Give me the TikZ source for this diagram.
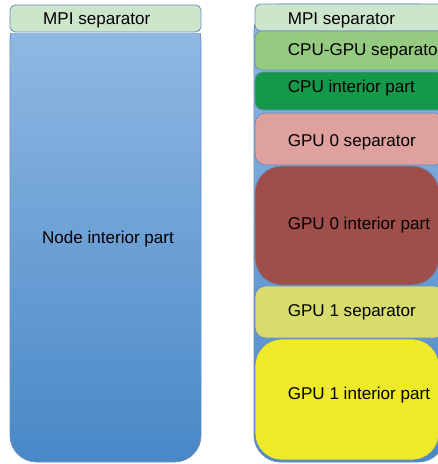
\documentclass[tikz,border=0pt]{standalone}
\usepackage{fontspec}
\setmainfont{Liberation Sans}
\usepackage{tikz}
\definecolor{edgeblue}{RGB}{104,142,190}
\definecolor{bluetop}{RGB}{147,186,228}
\definecolor{bluebot}{RGB}{72,136,199}
\definecolor{mpigreen}{RGB}{205,230,203}
\definecolor{cpugpugreen}{RGB}{148,203,128}
\definecolor{cpugreen}{RGB}{22,152,74}
\definecolor{gpuzerosep}{RGB}{222,161,157}
\definecolor{gpuzeroint}{RGB}{160,78,74}
\definecolor{gpuonesep}{RGB}{216,220,110}
\definecolor{gpuoneint}{RGB}{238,234,42}
\tikzset{every picture/.style={line width=0.75pt}}
\tikzset{part/.style={draw=edgeblue,line width=0.6pt},
  partlabel/.style={anchor=base west,inner sep=0pt,font=\fontsize{12.8}{14}\selectfont}}

\begin{document}
\begin{tikzpicture}[x=0.75pt,y=0.75pt,yscale=-1,xscale=1]
		\useasboundingbox (0,0) rectangle (437,464);
		
		%Shape: Rounded Rect (left body, square top)
		\begin{scope}
		\clip (0,33) rectangle (220,470);
		\shade [part, rounded corners=20, top color=bluetop, bottom color=bluebot]  (10,13) rectangle (201,462) ;
		\end{scope}
		
		%Shape: Rounded Rect (left MPI separator)
		\draw [part, fill=mpigreen, rounded corners=4]  (10,5) rectangle (201,32) ;
		
		%Shape: Rounded Rect (right column)
		\shade [part, rounded corners=20, top color=bluetop, bottom color=bluebot]  (254,4) rectangle (445,462) ;
		
		%Shape: Rounded Rect (right parts)
		\draw [part, fill=mpigreen, rounded corners=4]  (255,4) rectangle (445,31) ;
		\draw [part, fill=cpugpugreen, rounded corners=5]  (255,31) rectangle (445,70) ;
		\draw [part, fill=cpugreen, rounded corners=6]  (255,72) rectangle (445,110) ;
		\draw [part, fill=gpuzerosep, rounded corners=8]  (255,113) rectangle (445,165) ;
		\draw [part, fill=gpuzeroint, rounded corners=20]  (255,166) rectangle (439,285) ;
		\draw [part, fill=gpuonesep, rounded corners=8]  (255,286) rectangle (445,338) ;
		\draw [part, fill=gpuoneint, rounded corners=20]  (255,339) rectangle (439,460) ;
		
		% Text Node
		\node [partlabel] (mpiL) at (42.7,24) {MPI separator};
		% Text Node
		\node [partlabel, anchor=base] (nodeint) at (108,243) {Node interior part};
		% Text Node
		\node [partlabel] (mpiR) at (287.3,24) {MPI separator};
		% Text Node
		\node [partlabel] (cpugpu) at (287.3,55) {CPU-GPU separator};
		% Text Node
		\node [partlabel] (cpuint) at (287.3,92.5) {CPU interior part};
		% Text Node
		\node [partlabel] (gpu0sep) at (287.3,146.7) {GPU 0 separator};
		% Text Node
		\node [partlabel] (gpu0int) at (287.3,229) {GPU 0 interior part};
		% Text Node
		\node [partlabel] (gpu1sep) at (287.3,316.7) {GPU 1 separator};
		% Text Node
		\node [partlabel] (gpu1int) at (287.3,399) {GPU 1 interior part};
		
\end{tikzpicture}
\end{document}
